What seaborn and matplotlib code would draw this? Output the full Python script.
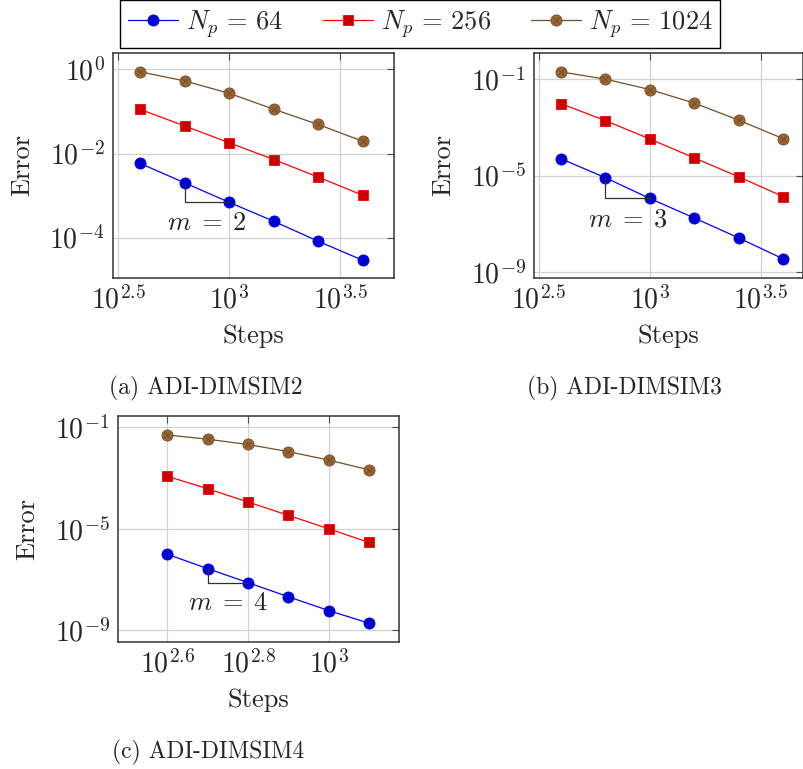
## Convergence plots (Error vs Steps) for ADI-DIMSIM2/3/4, pgfplots look-alike
import numpy as np
import pandas as pd
import matplotlib
matplotlib.use('Agg')
import matplotlib.pyplot as plt
import seaborn as sns
from matplotlib.ticker import FixedLocator, FixedFormatter, NullLocator

# --- data ---
steps_ab = [398, 631, 1000, 1585, 2512, 3981]
steps_c = [398, 501, 631, 794, 1000, 1259]

err64_a = [5.8e-3, 2.0e-3, 6.9e-4, 2.45e-4, 8.2e-5, 2.9e-5]
err256_a = [0.112, 0.045, 0.018, 7.2e-3, 2.75e-3, 1.02e-3]
err1024_a = [0.877, 0.53, 0.27, 0.113, 0.049, 0.0196]

err64_b = [5.0e-5, 8.1e-6, 1.12e-6, 1.74e-7, 2.6e-8, 3.5e-9]
err256_b = [9.6e-3, 1.9e-3, 3.3e-4, 5.4e-5, 8.9e-6, 1.35e-6]
err1024_b = [0.2, 0.1, 0.037, 0.0102, 2.0e-3, 3.4e-4]

err64_c = [1.0e-6, 2.7e-7, 7.6e-8, 2.1e-8, 6.0e-9, 1.9e-9]
err256_c = [1.18e-3, 3.8e-4, 1.14e-4, 3.4e-5, 1.0e-5, 2.9e-6]
err1024_c = [0.05, 0.034, 0.021, 0.011, 5.1e-3, 2.1e-3]

np_labels = [r'$N_p\,=\,64$', r'$N_p\,=\,256$', r'$N_p\,=\,1024$']
captions = ['(a) ADI-DIMSIM2', '(b) ADI-DIMSIM3', '(c) ADI-DIMSIM4']
slope_labels = [r'$m\;=\;2$', r'$m\;=\;3$', r'$m\;=\;4$']

xticks_ab = [10**2.5, 10**3, 10**3.5]
xticklabels_ab = [r'$10^{2.5}$', r'$10^{3}$', r'$10^{3.5}$']
xticks_c = [10**2.6, 10**2.8, 10**3]
xticklabels_c = [r'$10^{2.6}$', r'$10^{2.8}$', r'$10^{3}$']
yticks_a = [1e0, 1e-2, 1e-4]
yticklabels_a = [r'$10^{0}$', r'$10^{-2}$', r'$10^{-4}$']
yticks_bc = [1e-1, 1e-5, 1e-9]
yticklabels_bc = [r'$10^{-1}$', r'$10^{-5}$', r'$10^{-9}$']

# pgfplots default cycle list colours
line_colors = [(0, 0, 1), (1, 0, 0), (0.45, 0.3, 0.15)]
face_colors = [(0, 0, 0.8), (0.8, 0, 0), (0.6, 0.4, 0.2)]
markers = ['o', 's', 'o']

W, H = 804, 769
FS = 19


def px_axes(fig, l, r, t, b):
    return fig.add_axes([l / W, 1 - b / H, (r - l) / W, (b - t) / H])


def draw_panel(ax, steps, errs, xlim, ylim, xticks, xtl, yticks, ytl, mlabel):
    handles = []
    for i, err in enumerate(errs):
        df = pd.DataFrame({'Steps': steps, 'Error': err})
        sns.lineplot(data=df, x='Steps', y='Error', ax=ax, color=line_colors[i],
                     marker=markers[i], markersize=8 if i != 1 else 7.5,
                     markerfacecolor=face_colors[i], markeredgecolor=line_colors[i],
                     markeredgewidth=0.6, linewidth=0.9, legend=False)
        line = ax.lines[-1]
        if i == 2:
            # otimes* mark: cross on top of the filled circle
            xl, = ax.plot(steps, err, ls='none', marker='x', ms=5, mew=0.7,
                          color=line_colors[2])
            handles.append((line, xl))
        else:
            handles.append(line)

    # slope triangle on the Np=64 series between points 2 and 3
    e64 = errs[0]
    ax.plot([steps[1], steps[1], steps[2]], [e64[1], e64[2], e64[2]],
            color='0.2', lw=0.9)
    ax.annotate(mlabel, xy=(np.sqrt(steps[1] * steps[2]), e64[2]),
                xytext=(0, -15), textcoords='offset points',
                ha='center', va='center', fontsize=FS)

    ax.set_xscale('log')
    ax.set_yscale('log')
    ax.set_xlim(*xlim)
    ax.set_ylim(*ylim)
    ax.xaxis.set_major_locator(FixedLocator(xticks))
    ax.xaxis.set_major_formatter(FixedFormatter(xtl))
    ax.yaxis.set_major_locator(FixedLocator(yticks))
    ax.yaxis.set_major_formatter(FixedFormatter(ytl))
    ax.xaxis.set_minor_locator(NullLocator())
    ax.yaxis.set_minor_locator(NullLocator())
    ax.grid(True, color='0.82', lw=0.9)
    ax.set_axisbelow(True)
    ax.tick_params(which='major', direction='in', length=5, width=0.8,
                   color='0.3', top=True, right=True, labelsize=20, pad=6)
    for s in ax.spines.values():
        s.set_color('0.2')
        s.set_linewidth(1.1)

    ax.set_xlabel('Steps', fontsize=FS)
    ax.set_ylabel('Error', fontsize=FS)
    bb = ax.get_position()
    ax.xaxis.set_label_coords(0.5, -58 / (bb.height * H))
    ax.xaxis.label.set_va('center')
    ax.yaxis.set_label_coords(-91 / (bb.width * W), 0.5)
    ax.yaxis.label.set_va('center')
    return handles


def main():
    sns.set_style('white')
    plt.rcParams['font.family'] = 'serif'
    plt.rcParams['font.serif'] = ['cmr10']
    plt.rcParams['mathtext.fontset'] = 'cm'
    plt.rcParams['axes.formatter.use_mathtext'] = True
    plt.rcParams['axes.unicode_minus'] = False

    fig = plt.figure(figsize=(W / 100, H / 100), dpi=100)
    fig.patch.set_facecolor('white')

    ax_a = px_axes(fig, 113, 394, 53, 278)
    ax_b = px_axes(fig, 534, 803, 53, 278)
    ax_c = px_axes(fig, 118, 399, 416, 642)

    handles = draw_panel(ax_a, steps_ab, [err64_a, err256_a, err1024_a],
                         (10**2.477, 10**3.741), (10**-4.96, 10**0.39),
                         xticks_ab, xticklabels_ab, yticks_a, yticklabels_a,
                         slope_labels[0])
    draw_panel(ax_b, steps_ab, [err64_b, err256_b, err1024_b],
               (10**2.478, 10**3.69), (10**-9.25, 10**0.085),
               xticks_ab, xticklabels_ab, yticks_bc, yticklabels_bc,
               slope_labels[1])
    draw_panel(ax_c, steps_c, [err64_c, err256_c, err1024_c],
               (10**2.478, 10**3.174), (10**-9.46, 10**-0.555),
               xticks_c, xticklabels_c, yticks_bc, yticklabels_bc,
               slope_labels[2])

    leg = fig.legend(handles, np_labels, loc='center',
                     bbox_to_anchor=(420 / W, 1 - 24 / H), ncol=3, fontsize=FS,
                     frameon=True, fancybox=False, edgecolor='black',
                     framealpha=1, handlelength=1.9, handletextpad=0.3,
                     columnspacing=1.5, borderpad=0.3)
    leg.get_frame().set_linewidth(1.0)

    # sub-figure captions
    fig.text(206 / W, 1 - 388 / H, captions[0], ha='center', va='center', fontsize=17)
    fig.text(624 / W, 1 - 388 / H, captions[1], ha='center', va='center', fontsize=17)
    fig.text(208 / W, 1 - 752 / H, captions[2], ha='center', va='center', fontsize=17)

    fig.savefig('out.png', dpi=100)


if __name__ == '__main__':
    main()
